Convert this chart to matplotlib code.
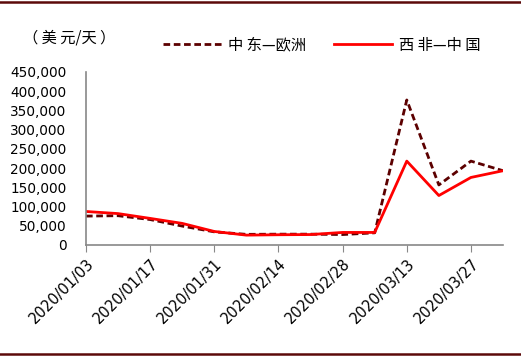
import matplotlib.pyplot as plt
from matplotlib.lines import Line2D

plt.rcParams['font.family'] = ['DejaVu Sans', 'Noto Sans CJK SC']

# weekly dates
dates = ['2020/01/03', '2020/01/10', '2020/01/17', '2020/01/24', '2020/01/31',
         '2020/02/07', '2020/02/14', '2020/02/21', '2020/02/28', '2020/03/06',
         '2020/03/13', '2020/03/20', '2020/03/27', '2020/04/03']

# 中东—欧洲 (dashed)
me_eu = [75000, 76000, 66000, 49000, 34000, 27500, 28000,
         28000, 27000, 31500, 377000, 156000, 218000, 193000]
# 西非—中国 (solid)
wa_cn = [87000, 81500, 69000, 56000, 35000, 25500, 26500,
         27000, 32500, 32500, 218000, 128500, 175500, 193000]

label_me = '中 东—欧洲'
label_wa = '西 非—中 国'
unit = '（ 美 元/天 ）'

fig = plt.figure(figsize=(5.21, 3.56), dpi=100)
ax = fig.add_axes([0.165, 0.312, 0.8005, 0.486])

x = list(range(len(dates)))
ax.plot(x, me_eu, color='#5c0000', lw=2.0, ls=(0, (2.4, 1.3)), label=label_me)
ax.plot(x, wa_cn, color='#ff0000', lw=2.0, label=label_wa)

ax.set_xlim(0, len(dates) - 1)
ax.set_ylim(0, 450000)
ax.set_yticks(range(0, 450001, 50000))
ax.set_yticklabels([f'{v:,}' for v in range(0, 450001, 50000)], fontsize=9.8)
ax.tick_params(axis='y', length=0, pad=14)

ax.set_xticks(x[::2])
ax.set_xticklabels(dates[::2], rotation=45, ha='right', rotation_mode='anchor', fontsize=10.5)
ax.tick_params(axis='x', length=5, color='#888888', pad=3)

for s in ['top', 'right']:
    ax.spines[s].set_visible(False)
for s in ['left', 'bottom']:
    ax.spines[s].set_color('#888888')
    ax.spines[s].set_linewidth(1.2)

# unit label and legend
fig.text(0.133, 0.893, unit, fontsize=11, ha='center', va='center',
         family=['Noto Sans CJK SC', 'DejaVu Sans'])
fig.legend(loc='center', bbox_to_anchor=(0.618, 0.873), ncol=2, frameon=False,
           handlelength=3.8, columnspacing=1.8, handletextpad=0.45,
           prop={'family': ['Noto Sans CJK SC', 'DejaVu Sans'], 'size': 11})

# top and bottom border lines
fig.add_artist(Line2D([0, 1], [0.995, 0.995], color='#5c0a0a', lw=1.8))
fig.add_artist(Line2D([0, 1], [0.006, 0.006], color='#5c0a0a', lw=1.8))

plt.savefig('out.png', dpi=100)
